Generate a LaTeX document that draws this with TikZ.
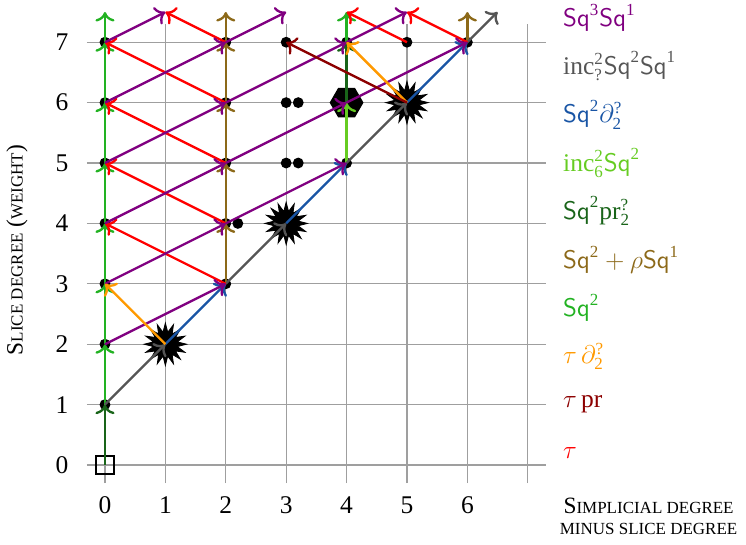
\documentclass[tikz,border=0pt]{standalone}
\usepackage{amsmath}
\usepackage{fontspec}
\setmainfont{Liberation Serif}
\usetikzlibrary{arrows.meta,shapes.geometric,shapes.symbols}
\definecolor{cPurple}{RGB}{128,0,128}
\definecolor{cInc}{RGB}{85,85,85}
\definecolor{cBlue}{RGB}{25,85,165}
\definecolor{cLgreen}{RGB}{102,204,34}
\definecolor{cDgreen}{RGB}{25,100,25}
\definecolor{cOlive}{RGB}{140,105,25}
\definecolor{cGreen}{RGB}{34,178,34}
\definecolor{cOrange}{RGB}{255,153,0}
\definecolor{cMaroon}{RGB}{140,0,0}
\definecolor{cRed}{RGB}{255,0,0}
\newcommand{\SQ}{\textsf{Sq}}
\newcommand{\tx}[1]{\text{#1}}
\newcommand{\smc}[1]{{\fontsize{8}{9}\selectfont #1}}
\tikzset{
  dot/.style={circle,fill=black,inner sep=0pt,minimum size=0.18cm},
  burst/.style={star,fill=black,draw=black,star points=16,star point ratio=1.75,minimum size=0.7cm,inner sep=0pt},
  hexa/.style={regular polygon,regular polygon sides=6,fill=black,minimum size=0.56cm,inner sep=0pt},
  sqbox/.style={draw=black,line width=1pt,minimum size=0.3cm,inner sep=0pt},
  arr/.style={line width=1.1pt,-{Computer Modern Rightarrow[length=4.5pt,width=9pt]}},
  gridline/.style={gray!75,line width=0.5pt},
  tick/.style={font=\fontsize{12}{14}\selectfont},
  leg/.style={anchor=west,font=\fontsize{12}{14}\selectfont,inner sep=0pt},
}
\begin{document}
\begin{tikzpicture}
\useasboundingbox (-1.738,-1.308) rectangle (10.613,7.699);
% grid
\foreach \i in {0,...,7} {
  \draw[gridline] (\i,-0.3) -- (\i,7.3);
  \draw[gridline] (-0.3,\i) -- (7.3,\i);
}
% tick labels
\foreach \i in {0,...,6} { \node[tick] (xt\i) at (\i,-0.66) {\i}; }
\foreach \i in {0,...,7} { \node[tick] (yt\i) at (-0.71,\i) {\i}; }
% axis labels
\node[rotate=90,font=\fontsize{11}{13}\selectfont] (ylab) at (-1.457,3.56) {S\smc{LICE DEGREE} (\smc{WEIGHT})};
\node[align=center,font=\fontsize{11}{13}\selectfont] (xlab) at (9.0,-0.85) {S\smc{IMPLICIAL DEGREE}\\[-3pt]\smc{MINUS SLICE DEGREE}};
% nodes
\node[sqbox] (o00) at (0,0) {};
\foreach \y in {1,...,7} { \node[dot] (d0\y) at (0,\y) {}; }
\node[burst] (s12) at (1,2) {};
\foreach \y in {3,...,7} { \node[dot] (d2\y) at (2,\y) {}; }
\node[dot] (e24) at (2.2,4) {};
\node[burst] (s34) at (3,4) {};
\node[dot] (d35) at (3,5) {};
\node[dot] (e35) at (3.2,5) {};
\node[dot] (d36) at (3,6) {};
\node[dot] (e36) at (3.2,6) {};
\node[dot] (d37) at (3,7) {};
\node[dot] (d45) at (4,5) {};
\node[hexa] (h46) at (4,6) {};
\node[dot] (d47) at (4,7) {};
\node[burst] (s56) at (5,6) {};
\node[dot] (d57) at (5,7) {};
\node[dot] (d67) at (6,7) {};
\foreach \x in {0,...,6} { \coordinate (t\x) at (\x,7.5); }
\coordinate (tg) at (6.5,7.5);
% green Sq^2
\draw[arr,cDgreen] (o00.center) -- (d01.center);
\foreach \a/\b in {d01/d02,d02/d03,d03/d04,d04/d05,d05/d06,d06/d07,d07/t0,d47/t4}
  { \draw[arr,cGreen] (\a.center) -- (\b.center); }
\draw[arr,cLgreen] (d45.center) -- (h46.center);
\draw[arr,cDgreen] (h46.center) -- (d47.center);
% olive
\foreach \a/\b in {d23/d24,d24/d25,d25/d26,d26/d27,d27/t2,d67/t6}
  { \draw[arr,cOlive] (\a.center) -- (\b.center); }
% gray and blue diagonal
\foreach \a/\b in {d01/s12,d23/s34,d45/s56,d67/tg}
  { \draw[arr,cInc] (\a.center) -- (\b.center); }
\foreach \a/\b in {s12/d23,s34/d45,s56/d67}
  { \draw[arr,cBlue] (\a.center) -- (\b.center); }
% red tau
\foreach \a/\b in {d23/d04,d24/d05,d25/d06,d26/d07,d27/t1,d57/t4,d67/t5}
  { \draw[arr,cRed] (\a.center) -- (\b.center); }
% purple
\foreach \a/\b in {d02/d23,d03/d24,d04/d25,d05/d26,d06/d27,d07/t1,d24/d45,d25/h46,d26/d47,d27/t3,h46/d67,d47/t5}
  { \draw[arr,cPurple] (\a.center) -- (\b.center); }
% orange, maroon
\draw[arr,cOrange] (s12.center) -- (d03.center);
\draw[arr,cOrange] (s56.center) -- (d47.center);
\draw[arr,cMaroon] (s56.center) -- (d37.center);
% legend
\node[leg,cPurple] (l0) at (7.58,7.40) {$\SQ^{\tx{3}}\SQ^{\tx{1}}$};
\node[leg,cInc] (l1) at (7.58,6.60) {$\tx{inc}^{\tx{2}}_{\tx{?}}\SQ^{\tx{2}}\SQ^{\tx{1}}$};
\node[leg,cBlue] (l2) at (7.58,5.80) {$\SQ^{\tx{2}}\partial^{\tx{?}}_{\tx{2}}$};
\node[leg,cLgreen] (l3) at (7.58,5.00) {$\tx{inc}^{\tx{2}}_{\tx{6}}\SQ^{\tx{2}}$};
\node[leg,cDgreen] (l4) at (7.58,4.20) {$\SQ^{\tx{2}}\tx{pr}^{\tx{?}}_{\tx{2}}$};
\node[leg,cOlive] (l5) at (7.58,3.40) {$\SQ^{\tx{2}}+\rho\SQ^{\tx{1}}$};
\node[leg,cGreen] (l6) at (7.58,2.60) {$\SQ^{\tx{2}}$};
\node[leg,cOrange] (l7) at (7.58,1.80) {$\tau\,\partial^{\tx{?}}_{\tx{2}}$};
\node[leg,cMaroon] (l8) at (7.58,1.00) {$\tau\,\tx{pr}$};
\node[leg,cRed] (l9) at (7.58,0.20) {$\tau$};
\end{tikzpicture}
\end{document}
